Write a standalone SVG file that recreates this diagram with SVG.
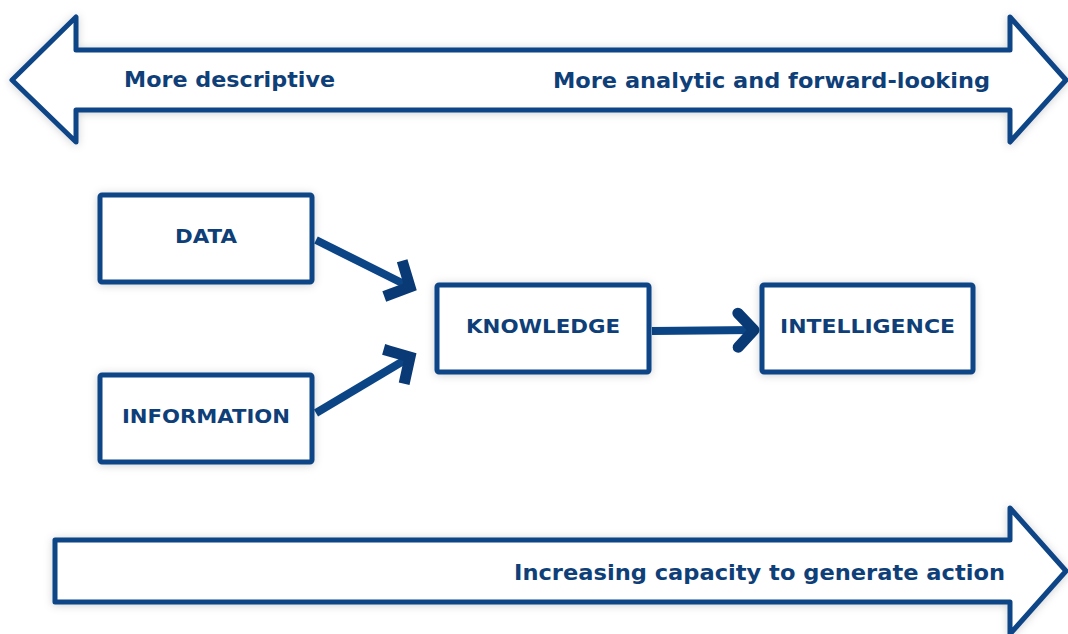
<svg xmlns="http://www.w3.org/2000/svg" width="1068" height="634" viewBox="0 0 1068 634">
<defs>
<style>
.shape{fill:#ffffff;stroke:#0c4586;stroke-width:5;stroke-linejoin:round;filter:url(#sh)}
.lbl{font-family:"DejaVu Sans",Verdana,sans-serif;font-weight:bold;fill:#0f3f78;font-size:20px}
.big{font-size:21px}
.conn{stroke:#0c4586;stroke-width:8;fill:none}
</style>
<filter id="sh" x="-10%" y="-30%" width="120%" height="160%">
<feDropShadow dx="0" dy="1" stdDeviation="4" flood-color="#000" flood-opacity="0.18"/>
</filter>
<marker id="chev" markerUnits="userSpaceOnUse" markerWidth="40" markerHeight="50" viewBox="-30 -25 40 50" refX="0" refY="0" orient="auto">
<path d="M -15 -16 L 0 0 L -15 16" fill="none" stroke="#0a3a75" stroke-width="11" stroke-linejoin="miter" stroke-linecap="square"/>
</marker>
<marker id="chevr" markerUnits="userSpaceOnUse" markerWidth="40" markerHeight="50" viewBox="-30 -25 40 50" refX="0" refY="0" orient="auto">
<path d="M -16 -17 L 0 0 L -16 17" fill="none" stroke="#0a3a75" stroke-width="11" stroke-linejoin="round" stroke-linecap="round"/>
</marker>
</defs>
<rect width="1068" height="634" fill="#ffffff"/>

<g id="top-arrow">
<path class="shape" d="M 12 80 L 76 17 L 76 50 L 1010 50 L 1010 17 L 1066 80 L 1010 142 L 1010 110 L 76 110 L 76 142 Z"/>
<text class="lbl big" x="124" y="87" textLength="211" lengthAdjust="spacingAndGlyphs">More descriptive</text>
<text class="lbl big" x="553" y="88" textLength="437" lengthAdjust="spacingAndGlyphs">More analytic and forward-looking</text>
</g>

<g id="bottom-arrow">
<path class="shape" d="M 55 540 L 1010 540 L 1010 508 L 1066 571 L 1010 634 L 1010 602 L 55 602 Z"/>
<text class="lbl big" x="514" y="580" textLength="491" lengthAdjust="spacingAndGlyphs">Increasing capacity to generate action</text>
</g>

<g id="connectors">
<path class="conn" d="M 316 240 L 410 287" marker-end="url(#chev)"/>
<path class="conn" d="M 316 413 L 410 357" marker-end="url(#chev)"/>
<path class="conn" d="M 652 331 L 754 330" marker-end="url(#chevr)"/>
</g>

<g id="data">
<rect class="shape" x="100" y="195" width="212" height="87" rx="2"/>
<text class="lbl" x="175" y="243" textLength="62" lengthAdjust="spacingAndGlyphs">DATA</text>
</g>
<g id="information">
<rect class="shape" x="100" y="375" width="212" height="87" rx="2"/>
<text class="lbl" x="122" y="423" textLength="168" lengthAdjust="spacingAndGlyphs">INFORMATION</text>
</g>
<g id="knowledge">
<rect class="shape" x="437" y="285" width="212" height="87" rx="2"/>
<text class="lbl" x="466" y="333" textLength="154" lengthAdjust="spacingAndGlyphs">KNOWLEDGE</text>
</g>
<g id="intelligence">
<rect class="shape" x="762" y="285" width="211" height="87" rx="2"/>
<text class="lbl" x="780" y="333" textLength="175" lengthAdjust="spacingAndGlyphs">INTELLIGENCE</text>
</g>
</svg>
